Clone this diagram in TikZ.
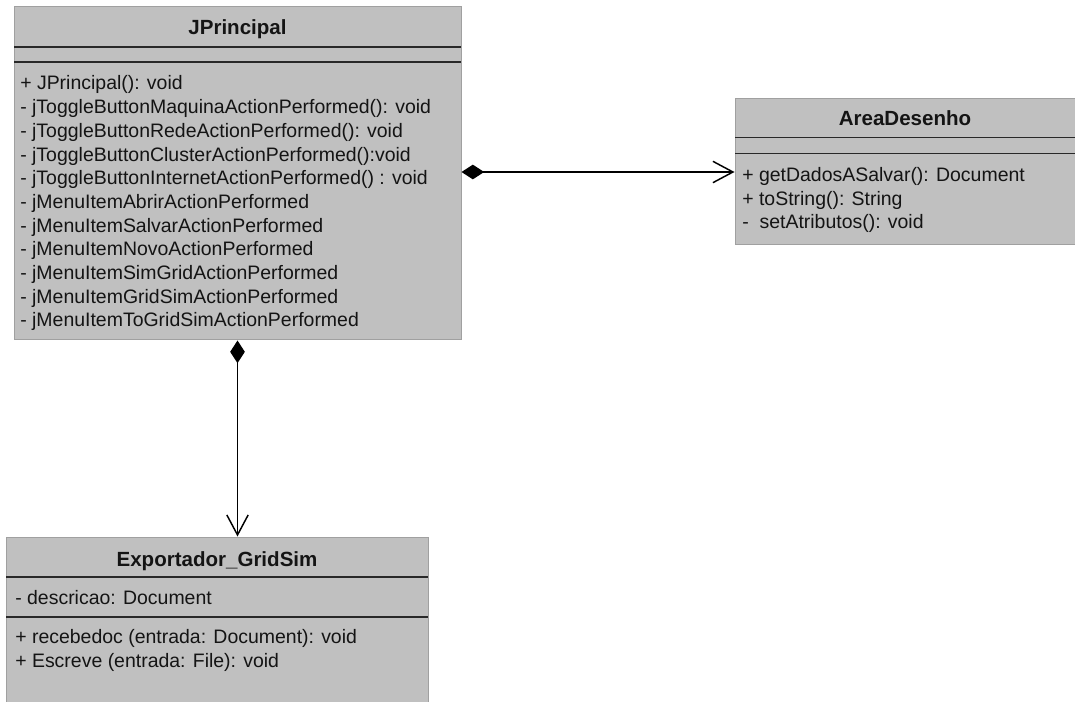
\documentclass[tikz,border=0pt]{standalone}
\usepackage{fontspec}
\setmainfont{Liberation Sans}
\usetikzlibrary{arrows.meta}
\definecolor{boxfill}{RGB}{192,192,192}
\definecolor{boxedge}{RGB}{160,160,160}
\definecolor{rulecol}{RGB}{40,40,40}
\definecolor{ink}{RGB}{20,20,20}
\begin{document}
\begin{tikzpicture}[x=0.75pt,y=-0.75pt,
  classbox/.style={draw=boxedge, fill=boxfill, line width=0.75pt, inner sep=0pt},
  divider/.style={draw=rulecol, line width=1.4pt},
  classname/.style={font=\fontsize{15.4}{18}\selectfont\bfseries, text=ink, inner sep=0pt, anchor=base},
  member/.style={font=\fontsize{14.6}{17}\selectfont, text=ink, inner sep=0pt, anchor=base west},
  composition/.style={draw=black, line width=1.1pt,
    {Diamond[length=17pt,width=11pt]}-{Straight Barb[length=15pt,width=16pt,line width=1.1pt]}}
]
\useasboundingbox (0,0) rectangle (1075,702);

% class JPrincipal
\node[classbox, minimum width=447*0.75pt, minimum height=333*0.75pt] (jp) at (237.5,173.5) {};
\draw[divider] (14,47) -- (461,47);
\draw[divider] (14,62) -- (461,62);
\node[classname] (jpname) at (237.5,35) {JPrincipal};
\foreach \i/\t in {0/{+ JPrincipal(): void},
                   1/{- jToggleButtonMaquinaActionPerformed(): void},
                   2/{- jToggleButtonRedeActionPerformed(): void},
                   3/{- jToggleButtonClusterActionPerformed():void},
                   4/{- jToggleButtonInternetActionPerformed() : void},
                   5/{- jMenuItemAbrirActionPerformed},
                   6/{- jMenuItemSalvarActionPerformed},
                   7/{- jMenuItemNovoActionPerformed},
                   8/{- jMenuItemSimGridActionPerformed},
                   9/{- jMenuItemGridSimActionPerformed},
                   10/{- jMenuItemToGridSimActionPerformed}}
  \node[member] (jpm\i) at (20,90+23.7*\i) {\t};

% class AreaDesenho
\node[classbox, minimum width=342*0.75pt, minimum height=146*0.75pt] (ad) at (906,172) {};
\draw[divider] (735,137.5) -- (1077,137.5);
\draw[divider] (735,153.5) -- (1077,153.5);
\node[classname] (adname) at (905,126) {AreaDesenho};
\node[member] (adm0) at (742,182) {+ getDadosASalvar(): Document};
\node[member] (adm1) at (742,205.5) {+ toString(): String};
\node[member] (adm2) at (742,229) {-\ \ setAtributos(): void};

% class Exportador_GridSim
\node[classbox, minimum width=422*0.75pt, minimum height=170*0.75pt] (ex) at (217,622) {};
\draw[divider] (6,577) -- (428,577);
\draw[divider] (6,617) -- (428,617);
\node[classname] (exname) at (217,566) {Exportador\_GridSim};
\node[member] (exa0) at (15,604) {- descricao: Document};
\node[member] (exm0) at (15,643) {+ recebedoc (entrada: Document): void};
\node[member] (exm1) at (15,667) {+ Escreve (entrada: File): void};

% associations
\draw[composition] (jp.east |- ad.west) -- (ad.west);
\draw[composition] (jp.south) -- (jp.south |- ex.north);
\end{tikzpicture}
\end{document}
